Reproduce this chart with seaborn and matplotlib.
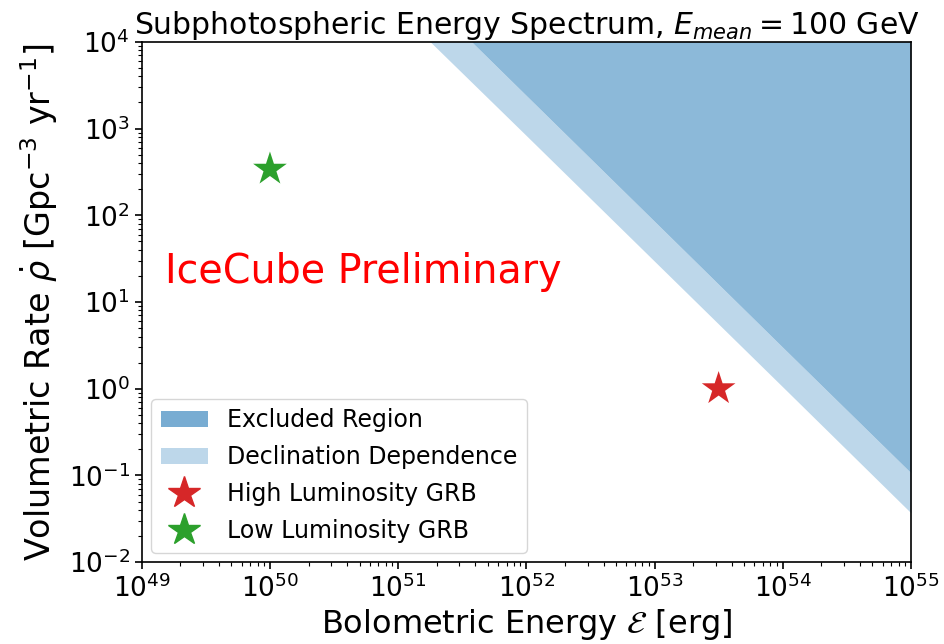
import numpy as np
import matplotlib
matplotlib.use("Agg")
import matplotlib.pyplot as plt
from matplotlib.patches import Patch
from matplotlib.lines import Line2D
import seaborn as sns
import pandas as pd

# Rate limits vs. bolometric energy (log-log straight lines)
energy_grid = [1e51, 1e52, 1e53, 1e54, 1e55]
excluded_limit = [6.8e4, 2.4e3, 85.0, 3.0, 0.107]        # strongest limit
declination_limit = [2.3e4, 830.0, 29.5, 1.05, 0.037]   # weakest limit over declination

# Benchmark GRB populations
grb_names = ["High Luminosity GRB", "Low Luminosity GRB"]
grb_energy = [3.16e53, 1e50]
grb_rate = [1.0, 340.0]
grb_colors = ["#d62728", "#2ca02c"]

sns.set_style("ticks")
plt.rcParams["font.family"] = ["DejaVu Sans"]
plt.rcParams["mathtext.fontset"] = "dejavusans"
for key in ["text.color", "axes.labelcolor", "xtick.color", "ytick.color"]:
    plt.rcParams[key] = "black"

fig = plt.figure(figsize=(9.45, 6.44), dpi=100)
ax = fig.add_axes([0.150, 0.127, 0.814, 0.808])

ceiling = 1e6
dark = "#8cb9d9"
light = "#bdd7ea"
ax.fill_between(energy_grid, declination_limit, excluded_limit, color=light, lw=0)
ax.fill_between(energy_grid, excluded_limit, ceiling, color=dark, lw=0)

df = pd.DataFrame({"energy": grb_energy, "rate": grb_rate, "name": grb_names})
sns.scatterplot(data=df, x="energy", y="rate", hue="name", palette=grb_colors,
                marker="*", s=650, linewidth=0, ax=ax, legend=False, zorder=5)

ax.set_xscale("log")
ax.set_yscale("log")
ax.set_xlim(1e49, 1e55)
ax.set_ylim(1e-2, 1e4)

ax.set_title(r"Subphotospheric Energy Spectrum, $E_{mean} = 100$ GeV", fontsize=21.5, pad=5)
ax.set_xlabel(r"Bolometric Energy $\mathcal{E}$ [erg]", fontsize=23, labelpad=3)
ax.set_ylabel(r"Volumetric Rate $\dot{\rho}$ [Gpc$^{-3}$ yr$^{-1}$]", fontsize=24, labelpad=6)
ax.tick_params(axis="both", which="major", labelsize=19, length=5, width=1.2)
ax.tick_params(axis="both", which="minor", length=3, width=0.8)
for sp in ax.spines.values():
    sp.set_linewidth(1.2)
    sp.set_color("black")

ax.text(0.03, 0.558, "IceCube Preliminary", color="red", fontsize=28.5,
        transform=ax.transAxes, va="center", ha="left")

handles = [
    Patch(facecolor="#78acd2", edgecolor="none", label="Excluded Region"),
    Patch(facecolor=light, edgecolor="none", label="Declination Dependence"),
    Line2D([], [], marker="*", color=grb_colors[0], linestyle="none", markersize=24, label=grb_names[0]),
    Line2D([], [], marker="*", color=grb_colors[1], linestyle="none", markersize=24, label=grb_names[1]),
]
ax.legend(handles=handles, loc="lower left", fontsize=17, frameon=True,
          borderaxespad=0.4, labelspacing=0.55)

fig.savefig("out.png", dpi=100)
